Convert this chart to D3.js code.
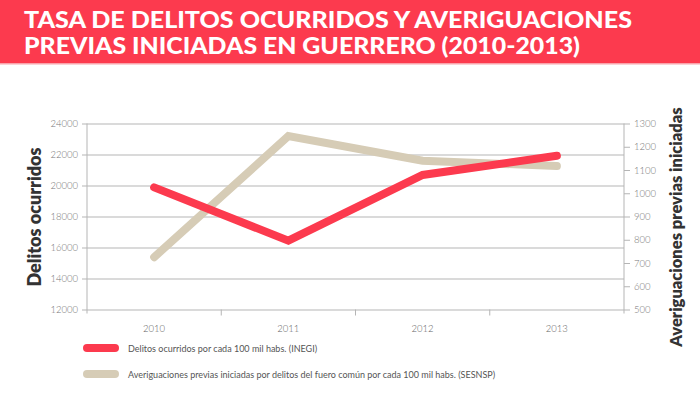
<!DOCTYPE html>
<html>
<head>
<meta charset="utf-8">
<script src="https://cdn.jsdelivr.net/npm/d3@7"></script>
<style>
  body { margin: 0; background: #fff; }
  svg { display: block; font-family: Lato, "Open Sans", sans-serif; }
</style>
</head>
<body>
<svg id="chart" width="700" height="395"></svg>
<script>
// chart data
const years = ["2010", "2011", "2012", "2013"];
const delitos = [19880, 16440, 20680, 21920];          // left axis
const averiguaciones = [725, 1246, 1140, 1117];        // right axis
const leftTicks = [12000, 14000, 16000, 18000, 20000, 22000, 24000];
const rightTicks = [500, 600, 700, 800, 900, 1000, 1100, 1200, 1300];
const titleLines = ["TASA DE DELITOS OCURRIDOS Y AVERIGUACIONES", "PREVIAS INICIADAS EN GUERRERO (2010-2013)"];
const legendLabels = [
  "Delitos ocurridos por cada 100 mil habs. (INEGI)",
  "Averiguaciones previas iniciadas por delitos del fuero común por cada 100 mil habs. (SESNSP)"
];

const red = "#fc3a4e";
const beige = "#d6ccb6";
const grid = "#b5b5b5";

const svg = d3.select("#chart");

// header band
svg.append("rect").attr("x", 0).attr("y", 0).attr("width", 700).attr("height", 63).attr("fill", red);
svg.append("rect").attr("x", 0).attr("y", 63).attr("width", 700).attr("height", 1.5).attr("fill", "#f9a3ab");

const titleWidths = [608, 556];
titleLines.forEach((t, i) => {
  svg.append("text")
    .attr("x", 24)
    .attr("y", 28 + i * 25.5)
    .attr("fill", "#fff")
    .attr("font-size", 22)
    .attr("font-weight", 900)
    .attr("textLength", titleWidths[i])
    .attr("lengthAdjust", "spacingAndGlyphs")
    .text(t);
});

// scales
const pLeft = 87, pRight = 624, pTop = 123.5, pBottom = 309.5;

const x = d3.scaleBand().domain(years).range([pLeft, pRight]);
const yL = d3.scaleLinear().domain([12000, 24000]).range([pBottom, pTop]);
const yR = d3.scaleLinear().domain([500, 1300]).range([pBottom, pTop]);

const tickStyle = g => g.selectAll("text")
  .attr("fill", "#777").attr("font-size", 9.5).attr("font-family", "Lato").attr("font-weight", 300);

// grid lines
svg.append("g")
  .attr("transform", `translate(${pLeft},0)`)
  .call(d3.axisRight(yL).tickValues(leftTicks).tickSize(pRight - pLeft).tickFormat(""))
  .call(g => g.select(".domain").remove())
  .call(g => g.selectAll("line").attr("stroke", grid));

// left axis
svg.append("g")
  .attr("transform", `translate(${pLeft},0)`)
  .call(d3.axisLeft(yL).tickValues(leftTicks).tickSize(5).tickPadding(4).tickSizeOuter(0).tickFormat(d3.format("d")))
  .call(g => g.select(".domain").attr("stroke", grid).attr("d", `M0,${pTop}V${pBottom + 4}`))
  .call(g => g.selectAll("line").attr("stroke", grid))
  .call(tickStyle);

// right axis
svg.append("g")
  .attr("transform", `translate(${pRight},0)`)
  .call(d3.axisRight(yR).tickValues(rightTicks).tickSize(6).tickPadding(4).tickSizeOuter(0).tickFormat(d3.format("d")))
  .call(g => g.select(".domain").attr("stroke", grid).attr("d", `M0,${pTop}V${pBottom + 4}`))
  .call(g => g.selectAll("line").attr("stroke", grid))
  .call(tickStyle);

// x axis: ticks on band boundaries, labels centered
const xg = svg.append("g").attr("transform", `translate(0,${pBottom})`);
xg.selectAll("line")
  .data(years.slice(1))
  .join("line")
  .attr("x1", d => x(d)).attr("x2", d => x(d))
  .attr("y1", 0).attr("y2", 6)
  .attr("stroke", grid);
xg.selectAll("text")
  .data(years)
  .join("text")
  .attr("x", d => x(d) + x.bandwidth() / 2)
  .attr("y", 22)
  .attr("text-anchor", "middle")
  .attr("fill", "#666")
  .attr("font-size", 9.5)
  .attr("font-weight", 300)
  .text(d => d);

// axis titles
svg.append("text")
  .attr("transform", "translate(41,217) rotate(-90)")
  .attr("text-anchor", "middle")
  .attr("font-size", 18)
  .attr("font-weight", 800)
  .attr("fill", "#333")
  .text("Delitos ocurridos");

svg.append("text")
  .attr("transform", "translate(682,227) rotate(-90)")
  .attr("text-anchor", "middle")
  .attr("font-size", 16.5)
  .attr("font-weight", 800)
  .attr("fill", "#333")
  .text("Averiguaciones previas iniciadas");

// lines
const cx = d => x(d) + x.bandwidth() / 2;

svg.append("path")
  .datum(years.map((d, i) => [cx(d), yR(averiguaciones[i])]))
  .attr("fill", "none")
  .attr("stroke", beige)
  .attr("stroke-width", 8)
  .attr("stroke-linecap", "round")
  .attr("d", d3.line());

svg.append("path")
  .datum(years.map((d, i) => [cx(d), yL(delitos[i])]))
  .attr("fill", "none")
  .attr("stroke", red)
  .attr("stroke-width", 8)
  .attr("stroke-linecap", "round")
  .attr("d", d3.line());

// legend
const legend = svg.append("g");
[red, beige].forEach((c, i) => {
  const ly = 348 + i * 26;
  legend.append("line")
    .attr("x1", 87).attr("x2", 115)
    .attr("y1", ly).attr("y2", ly)
    .attr("stroke", c)
    .attr("stroke-width", 8)
    .attr("stroke-linecap", "round");
  legend.append("text")
    .attr("x", 128)
    .attr("y", ly + 3.5)
    .attr("fill", "#555")
    .attr("font-size", 9)
    .attr("font-weight", 400)
    .text(legendLabels[i]);
});
</script>
</body>
</html>
